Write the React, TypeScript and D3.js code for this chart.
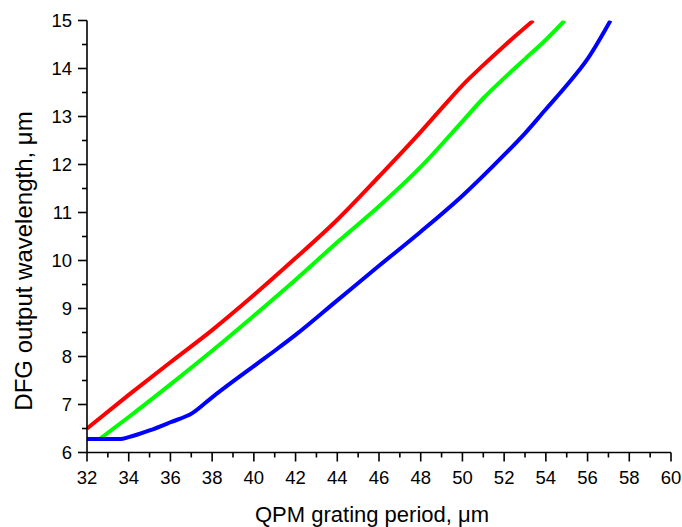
import React from "react";
import * as d3 from "d3";

// QPM grating period (µm) vs DFG output wavelength (µm), three pump settings
const redPeriod = [32, 34, 36, 38, 40, 42, 44, 46, 48, 49, 50, 51, 52, 53.4];
const redWave = [6.5, 7.2, 7.88, 8.55, 9.28, 10.05, 10.85, 11.75, 12.68, 13.17, 13.65, 14.07, 14.47, 15];

const greenPeriod = [32.6, 34, 36, 38, 40, 42, 44, 46, 48, 50, 51, 52, 53, 54, 54.9];
const greenWave = [6.28, 6.74, 7.42, 8.12, 8.85, 9.6, 10.38, 11.13, 11.95, 12.9, 13.38, 13.8, 14.2, 14.6, 15];

const bluePeriod = [32, 33.6, 34, 35, 36, 37.05, 38, 39, 40, 41, 42, 44, 46, 48, 50, 52, 53, 54, 55, 56, 57.1];
const blueWave = [6.28, 6.28, 6.32, 6.46, 6.63, 6.82, 7.15, 7.48, 7.8, 8.12, 8.45, 9.17, 9.89, 10.6, 11.35, 12.2, 12.65, 13.15, 13.65, 14.2, 15];

const xTicks = d3.range(32, 61, 2);
const yTicks = d3.range(6, 16, 1);

const W = 682;
const H = 527;
const margin = { left: 87, right: 11, top: 20.5, bottom: 74.5 };

const App = () => {
  const x = d3.scaleLinear().domain([32, 60]).range([margin.left, W - margin.right]);
  const y = d3.scaleLinear().domain([6, 15]).range([H - margin.bottom, margin.top]);

  const line = d3
    .line<[number, number]>()
    .x((d) => x(d[0]))
    .y((d) => y(d[1]))
    .curve(d3.curveMonotoneX);

  const series = [
    { xs: redPeriod, ys: redWave, color: "#ff0000" },
    { xs: greenPeriod, ys: greenWave, color: "#00ff00" },
    { xs: bluePeriod, ys: blueWave, color: "#0000ff" },
  ];

  const x0 = x(32);
  const y0 = y(6);
  const font = "Liberation Sans, Arial, sans-serif";

  return (
    <svg
      width={W}
      height={H}
      style={{ position: "absolute", left: 0, top: 0, background: "#fff" }}
      fontFamily={font}
    >
      <defs>
        <clipPath id="plot">
          <rect x={x0} y={margin.top} width={x(60) - x0} height={y0 - margin.top} />
        </clipPath>
      </defs>

      {/* curves */}
      <g clipPath="url(#plot)">
        {series.map((s, i) => (
          <path
            key={i}
            d={line(s.xs.map((v, j) => [v, s.ys[j]]) as [number, number][]) || ""}
            fill="none"
            stroke={s.color}
            strokeWidth={4}
            strokeLinejoin="round"
          />
        ))}
      </g>

      {/* y axis */}
      <line x1={x0} y1={y(15)} x2={x0} y2={y0} stroke="#000" strokeWidth={1.6} />
      {d3.range(6, 15.01, 0.5).map((v) => {
        const major = Number.isInteger(v);
        return (
          <line
            key={"yt" + v}
            x1={x0 - (major ? 9 : 5)}
            x2={x0}
            y1={y(v)}
            y2={y(v)}
            stroke="#000"
            strokeWidth={1.6}
          />
        );
      })}
      {yTicks.map((v) => (
        <text key={"yl" + v} x={x0 - 15} y={y(v)} dy="0.36em" textAnchor="end" fontSize={18.5}>
          {v}
        </text>
      ))}

      {/* x axis */}
      <line x1={x0} y1={y0} x2={x(60)} y2={y0} stroke="#000" strokeWidth={1.6} />
      {d3.range(32, 60.01, 1).map((v) => {
        const major = v % 2 === 0;
        return (
          <line
            key={"xt" + v}
            x1={x(v)}
            x2={x(v)}
            y1={y0}
            y2={y0 + (major ? 9 : 5)}
            stroke="#000"
            strokeWidth={1.6}
          />
        );
      })}
      {xTicks.map((v) => (
        <text key={"xl" + v} x={x(v)} y={y0 + 31.5} textAnchor="middle" fontSize={18.5}>
          {v}
        </text>
      ))}

      {/* axis titles */}
      <text x={372} y={521.5} textAnchor="middle" fontSize={22}>
        QPM grating period, μm
      </text>
      <text transform="translate(31.5, 261) rotate(-90)" textAnchor="middle" fontSize={24}>
        DFG output wavelength, μm
      </text>
    </svg>
  );
};

export default App;
